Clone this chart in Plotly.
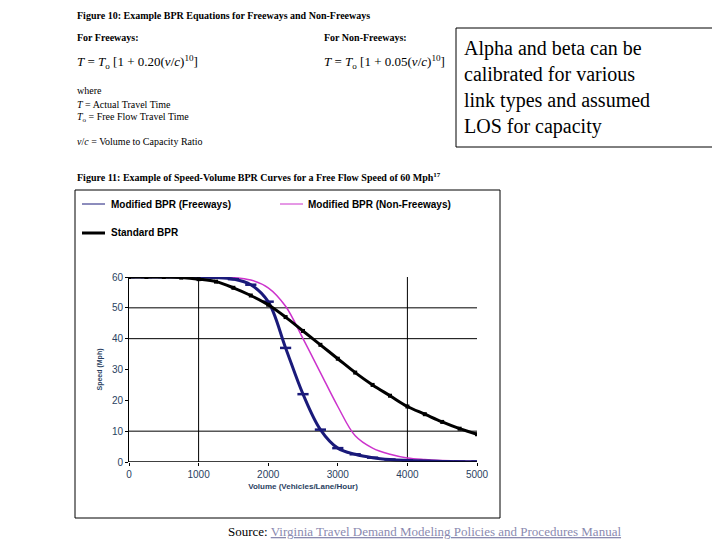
import plotly.graph_objects as go

volume = [0, 250, 500, 750, 1000, 1250, 1500, 1750, 2000, 2250, 2500,
          2750, 3000, 3250, 3500, 3750, 4000, 4250, 4500, 4750, 5000]
speed_freeway = [60, 60, 60, 60, 59.9, 59.8, 59.3, 57.5, 52, 37, 22,
                 10.5, 4.5, 2.5, 1.4, 0.8, 0.5, 0.3, 0.2, 0.1, 0.1]
speed_nonfreeway = [60, 60, 60, 60, 60, 59.9, 59.8, 59, 56.5, 50.5, 40,
                    29, 18, 8.5, 4.5, 2.5, 1.3, 0.8, 0.5, 0.3, 0.2]
speed_standard = [60, 60, 60, 59.8, 59.3, 58.5, 56.5, 54, 51, 47, 42.5,
                  38, 33.5, 29, 25, 21.5, 18, 15.5, 13, 10.8, 9]

NAVY = "#1a1a7a"
MAGENTA = "#cc33cc"

# the page body adds an 8px offset, so the figure is drawn slightly smaller
W, H, OFF = 712, 532, 8


def px(x, y):
    return (x - OFF) / W, 1 - (y - OFF) / H


fig = go.Figure()
fig.add_trace(go.Scatter(x=volume, y=speed_nonfreeway, mode="lines",
                         line=dict(color=MAGENTA, width=1.5, shape="spline"),
                         name="Modified BPR (Non-Freeways)"))
fig.add_trace(go.Scatter(x=volume, y=speed_freeway, mode="lines+markers",
                         line=dict(color=NAVY, width=3, shape="spline"),
                         marker=dict(symbol="line-ew", size=8, line=dict(color=NAVY, width=2.5)),
                         name="Modified BPR (Freeways)"))
fig.add_trace(go.Scatter(x=volume, y=speed_standard, mode="lines+markers",
                         line=dict(color="black", width=3, shape="spline"),
                         marker=dict(symbol="square", size=4, color="black"),
                         name="Standard BPR"))

shapes = []
# partial gridlines as in the source figure
for gx in [1000, 4000]:
    shapes.append(dict(type="line", xref="x", yref="y", x0=gx, x1=gx, y0=0, y1=60,
                       line=dict(color="black", width=1), layer="below"))
for gy in [10, 40, 50]:
    shapes.append(dict(type="line", xref="x", yref="y", x0=0, x1=5000, y0=gy, y1=gy,
                       line=dict(color="black", width=1), layer="below"))
shapes.append(dict(type="line", xref="x", yref="y", x0=0, x1=5000, y0=0, y1=0,
                   line=dict(color="black", width=1.5)))


def rect(x0, y0, x1, y1, **kw):
    a, b = px(x0, y1)
    c, d = px(x1, y0)
    shapes.append(dict(type="rect", xref="paper", yref="paper", x0=a, x1=c, y0=b, y1=d,
                       line=dict(color="black", width=1), **kw))


rect(75, 190, 500, 518)
rect(456, 28, 718, 147, fillcolor="white")

# legend line samples
for (x0, x1, y, c, w) in [(82, 105, 204, NAVY, 1), (280, 303, 204, MAGENTA, 1),
                          (82, 105, 233, "black", 3)]:
    a, b = px(x0, y)
    c2, _ = px(x1, y)
    shapes.append(dict(type="line", xref="paper", yref="paper", x0=a, x1=c2, y0=b, y1=b,
                       line=dict(color=c, width=w)))

ann = []


def text(x, y, s, size=10, bold=False, family="Liberation Serif", color="black", anchor="left"):
    xx, yy = px(x, y)
    ann.append(dict(xref="paper", yref="paper", x=xx, y=yy, text=f"<b>{s}</b>" if bold else s,
                    showarrow=False, xanchor=anchor, yanchor="middle", align="left",
                    font=dict(size=size, family=family, color=color)))


text(75, 15, "Figure 10: Example BPR Equations for Freeways and Non-Freeways", 10, True)
text(75, 37, "For Freeways:", 10, True)
text(322, 37, "For Non-Freeways:", 10, True)
text(75, 62, "<i>T</i> = <i>T</i><sub>o</sub> [1 + 0.20(<i>v</i>/<i>c</i>)<sup>10</sup>]", 13)
text(322, 62, "<i>T</i> = <i>T</i><sub>o</sub> [1 + 0.05(<i>v</i>/<i>c</i>)<sup>10</sup>]", 13)
text(75, 91, "where", 10)
text(75, 104, "<i>T</i> = Actual Travel Time", 10)
text(75, 117, "<i>T</i><sub>o</sub> = Free Flow Travel Time", 10)
text(75, 142, "<i>v</i>/<i>c</i> = Volume to Capacity Ratio", 10)
text(75, 177, "Figure 11: Example of Speed-Volume BPR Curves for a Free Flow Speed of 60 Mph<sup>17</sup>", 10, True)
text(109, 204, "Modified BPR (Freeways)", 10, True, "Liberation Sans")
text(306, 204, "Modified BPR (Non-Freeways)", 10, True, "Liberation Sans")
text(109, 233, "Standard BPR", 10, True, "Liberation Sans")
text(462, 87, "Alpha and beta can be<br>calibrated for various<br>link types and assumed<br>LOS for capacity", 20)
text(424, 531, "Source: <span style='color:#8a8ab0'><u>Virginia Travel Demand Modeling Policies and Procedures Manual</u></span>",
     13, anchor="center")

xd0, _ = px(129, 0)
xd1, _ = px(477, 0)
_, yd0 = px(0, 462)
_, yd1 = px(0, 277)

fig.update_layout(
    width=W, height=H,
    margin=dict(l=0, r=0, t=0, b=0, autoexpand=False),
    paper_bgcolor="white", plot_bgcolor="white",
    showlegend=False,
    shapes=shapes, annotations=ann,
    xaxis=dict(domain=[xd0, xd1], range=[0, 5000], dtick=1000,
               showgrid=False, zeroline=False, showline=False, ticks="outside",
               ticklen=3, tickcolor="black", automargin=False,
               tickfont=dict(size=10, family="Liberation Sans"),
               title=dict(text="<b>Volume (Vehicles/Lane/Hour)</b>", standoff=4,
                          font=dict(size=8, family="Liberation Sans"))),
    yaxis=dict(domain=[yd0, yd1], range=[0, 60], dtick=10,
               showgrid=False, zeroline=False, showline=True, linecolor="black",
               ticks="outside", ticklen=3, tickcolor="black", automargin=False,
               tickfont=dict(size=10, family="Liberation Sans"),
               title=dict(text="<b>Speed (Mph)</b>", standoff=8,
                          font=dict(size=7, family="Liberation Sans"))),
)

fig.write_html("out.html")
